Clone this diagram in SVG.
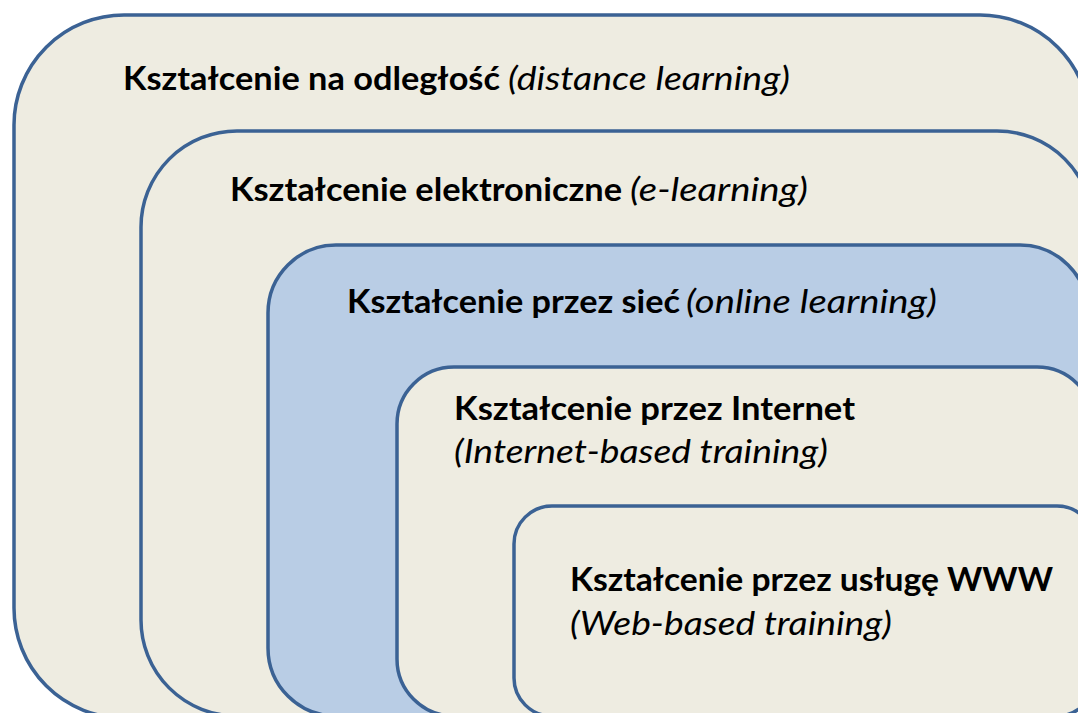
<svg xmlns="http://www.w3.org/2000/svg" width="1078" height="713" viewBox="0 0 1078 713">
  <style>
    .box { fill: #EEECE1; stroke: #3B6294; stroke-width: 3.5; }
    .box.net { fill: #B9CDE5; }
    .t { font-family: Lato, "Open Sans", "Liberation Sans", sans-serif; font-size: 32px; fill: #000; }
    .b { font-weight: bold; }
    .i { font-style: italic; }
  </style>
  <rect x="0" y="0" width="1078" height="713" fill="#FFFFFF"/>

  <!-- nested learning categories, outermost first -->
  <g id="distance-learning">
    <rect class="box" x="14" y="15" width="1076" height="703" rx="110" ry="110"/>
    <text class="t b" x="123" y="90" textLength="377" lengthAdjust="spacingAndGlyphs">Kształcenie na odległość</text>
    <text class="t i" x="508" y="90" textLength="282" lengthAdjust="spacingAndGlyphs">(distance learning)</text>
  </g>

  <g id="e-learning">
    <rect class="box" x="141" y="131" width="952" height="585" rx="96" ry="96"/>
    <text class="t b" x="230" y="201" textLength="392" lengthAdjust="spacingAndGlyphs">Kształcenie elektroniczne</text>
    <text class="t i" x="630" y="201" textLength="178" lengthAdjust="spacingAndGlyphs">(e-learning)</text>
  </g>

  <g id="online-learning">
    <rect class="box net" x="268" y="245" width="820" height="471" rx="68" ry="68"/>
    <text class="t b" x="347" y="313" textLength="333" lengthAdjust="spacingAndGlyphs">Kształcenie przez sieć</text>
    <text class="t i" x="686" y="313" textLength="251" lengthAdjust="spacingAndGlyphs">(online learning)</text>
  </g>

  <g id="internet-based-training">
    <rect class="box" x="397" y="367" width="697" height="349" rx="57" ry="57"/>
    <text class="t b" x="454" y="420" textLength="401" lengthAdjust="spacingAndGlyphs">Kształcenie przez Internet</text>
    <text class="t i" x="454" y="463" textLength="374" lengthAdjust="spacingAndGlyphs">(Internet-based training)</text>
  </g>

  <g id="web-based-training">
    <rect class="box" x="514" y="506" width="581" height="210" rx="38" ry="38"/>
    <text class="t b" x="570" y="591" textLength="483" lengthAdjust="spacingAndGlyphs">Kształcenie przez usługę WWW</text>
    <text class="t i" x="570" y="635" textLength="322" lengthAdjust="spacingAndGlyphs">(Web-based training)</text>
  </g>
</svg>
